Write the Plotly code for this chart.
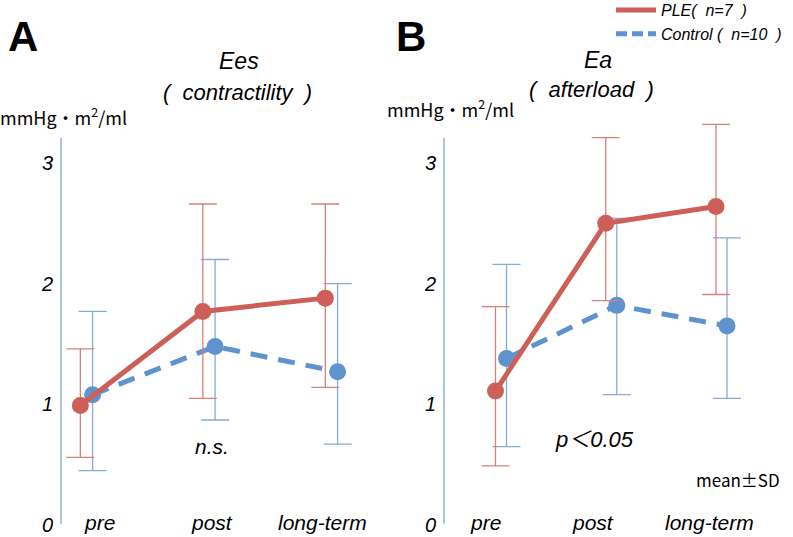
import plotly.graph_objects as go
import numpy as np

# ---------------- data ----------------
categories = ["pre", "post", "long-term"]
y_tick_values = [0, 1, 2, 3]
y_tick_labels = ["0", "1", "2", "3"]

series_names = ["PLE(  n=7  )", "Control (  n=10  )"]

# Panel A : Ees (contractility)
ees_ple_mean = [0.99, 1.77, 1.88]
ees_ple_sd_plus = [0.47, 0.89, 0.78]
ees_ple_sd_minus = [0.43, 0.72, 0.74]
ees_ctrl_mean = [1.08, 1.48, 1.27]
ees_ctrl_sd_plus = [0.69, 0.72, 0.73]
ees_ctrl_sd_minus = [0.63, 0.61, 0.60]

# Panel B : Ea (afterload)
ea_ple_mean = [1.11, 2.50, 2.64]
ea_ple_sd_plus = [0.70, 0.71, 0.68]
ea_ple_sd_minus = [0.62, 0.64, 0.73]
ea_ctrl_mean = [1.38, 1.82, 1.65]
ea_ctrl_sd_plus = [0.78, 0.72, 0.73]
ea_ctrl_sd_minus = [0.73, 0.74, 0.60]

# ---------------- style ----------------
W, H = 793, 537
RED = "#CD5F58"
RED_ERR = "#D8817B"
BLUE = "#5F93CE"
BLUE_ERR = "#86ABD5"
AXIS_BLUE = "#7DA7D3"
LATIN = "Liberation Sans, Arial, sans-serif"
CJK = "Noto Sans CJK JP, sans-serif"
OFFSET = 0.05


def py(p):
    return 1 - p / H


def px(p):
    return p / W


fig = go.Figure()


def add_panel(xa, ya, ple_m, ple_p, ple_n, ctl_m, ctl_p, ctl_n):
    idx = np.arange(len(categories))
    fig.add_trace(go.Scatter(
        x=idx + OFFSET, y=ctl_m, mode="lines+markers", xaxis=xa, yaxis=ya,
        line=dict(color=BLUE, width=5, dash="17px,11px"),
        marker=dict(size=17, color=BLUE),
        error_y=dict(type="data", symmetric=False, array=ctl_p, arrayminus=ctl_n,
                     color=BLUE_ERR, thickness=1.3, width=14),
        showlegend=False, cliponaxis=False, hoverinfo="skip"))
    fig.add_trace(go.Scatter(
        x=idx - OFFSET, y=ple_m, mode="lines+markers", xaxis=xa, yaxis=ya,
        line=dict(color=RED, width=5),
        marker=dict(size=17, color=RED),
        error_y=dict(type="data", symmetric=False, array=ple_p, arrayminus=ple_n,
                     color=RED_ERR, thickness=1.3, width=14),
        showlegend=False, cliponaxis=False, hoverinfo="skip"))


add_panel("x", "y", ees_ple_mean, ees_ple_sd_plus, ees_ple_sd_minus,
          ees_ctrl_mean, ees_ctrl_sd_plus, ees_ctrl_sd_minus)
add_panel("x2", "y2", ea_ple_mean, ea_ple_sd_plus, ea_ple_sd_minus,
          ea_ctrl_mean, ea_ctrl_sd_plus, ea_ctrl_sd_minus)

# legend-only traces
fig.add_trace(go.Scatter(x=[None], y=[None], mode="lines", name=series_names[0],
                         line=dict(color=RED, width=5), xaxis="x2", yaxis="y2"))
fig.add_trace(go.Scatter(x=[None], y=[None], mode="lines", name=series_names[1],
                         line=dict(color=BLUE, width=5, dash="11px,5px"), xaxis="x2", yaxis="y2"))

ydom = [py(525), py(114.7)]
yax = dict(domain=ydom, range=[0, 3.4], tickvals=y_tick_values, ticktext=y_tick_labels,
           tickfont=dict(family=LATIN, size=20, color="black", style="italic"),
           showgrid=False, zeroline=False, showline=False, ticks="",
           ticklabelstandoff=7, fixedrange=True, automargin=False)
xax = dict(showgrid=False, zeroline=False, showline=False, showticklabels=False,
           ticks="", fixedrange=True, automargin=False)

fig.update_layout(
    width=W, height=H,
    margin=dict(l=0, r=0, t=0, b=0, autoexpand=False),
    paper_bgcolor="white", plot_bgcolor="rgba(0,0,0,0)",
    xaxis=dict(xax, domain=[px(61), px(390)], range=[-0.208, 2.478], anchor="y"),
    yaxis=dict(yax, anchor="x"),
    xaxis2=dict(xax, domain=[px(444), px(770)], range=[-0.517, 2.44], anchor="y2"),
    yaxis2=dict(yax, anchor="x2"),
    legend=dict(x=px(611), y=1 + 7 / H, xanchor="left", yanchor="top",
                bgcolor="rgba(0,0,0,0)", tracegroupgap=0, itemwidth=40,
                font=dict(family=LATIN, size=16, color="black", style="italic")),
    showlegend=True,
)

# y axis lines
for xr, yr in (("x domain", "y"), ("x2 domain", "y2")):
    fig.add_shape(type="line", xref=xr, yref=yr, x0=0, x1=0, y0=0.01, y1=3.207,
                  line=dict(color=AXIS_BLUE, width=1.3))

ann = []


def text(x, y, s, size, style="normal", weight="normal", family=LATIN):
    ann.append(dict(x=px(x), y=py(y), xref="paper", yref="paper", text=s,
                    showarrow=False, xanchor="center", yanchor="middle",
                    font=dict(family=family, size=size, color="black",
                              style=style, weight=weight)))


# category labels
label_px_a = [99, 212, 322]
label_px_b = [485, 593, 709]
for c, xa, xb in zip(categories, label_px_a, label_px_b):
    text(xa, 522, c, 21, style="italic")
    text(xb, 522, c, 21, style="italic")

text(23, 37, "A", 42, weight="bold")
text(411, 37, "B", 42, weight="bold")
text(239, 61, "Ees", 23, style="italic")
text(237, 93, "(  contractility  )", 22, style="italic")
text(598, 60, "Ea", 23, style="italic")
text(591, 90, "(  afterload  )", 22, style="italic")
text(63, 116, "mmHg・m<sup>2</sup>/ml", 18, family=CJK)
text(450, 108, "mmHg・m<sup>2</sup>/ml", 18, family=CJK)
text(212, 446, "n.s.", 21, style="italic")
text(594, 437, "p<span style='font-family:Noto Sans CJK JP'>＜</span>0.05", 22, style="italic")
text(738, 479, "mean±SD", 17, family=CJK)

fig.update_layout(annotations=ann)

fig.write_html("out.html", config={"displayModeBar": False},
               post_script="document.body.style.margin='0';document.body.style.padding='0';")
